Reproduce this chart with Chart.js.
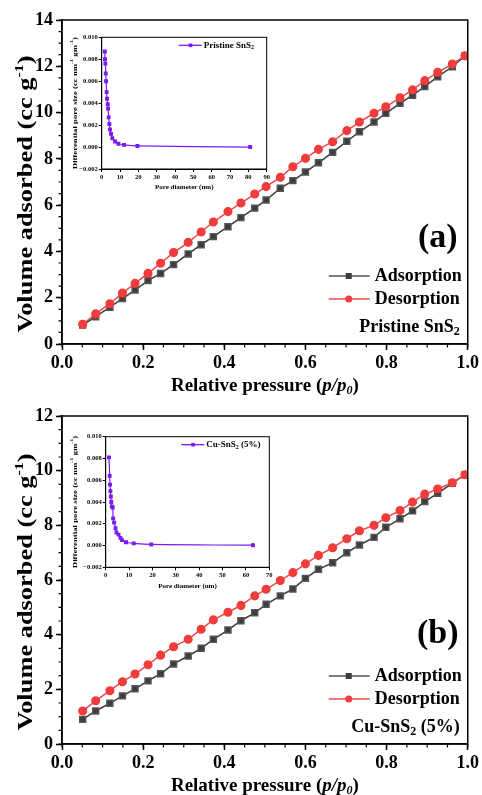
<!DOCTYPE html>
<html>
<head>
<meta charset="utf-8">
<script src="https://cdn.jsdelivr.net/npm/chart.js@4.4.0/dist/chart.umd.min.js"></script>
<style>
  body { margin: 0; background: #fff; }
  #wrap { position: relative; width: 482px; height: 795px; }
  canvas { position: absolute; }
</style>
</head>
<body>
<div id="wrap">
  <canvas id="mainA" style="left:0;top:0;width:482px;height:400px" width="482" height="400"></canvas>
  <canvas id="mainB" style="left:0;top:400px;width:482px;height:395px" width="482" height="395"></canvas>
  <canvas id="insetA" style="left:60px;top:25px;width:215px;height:172px" width="215" height="172"></canvas>
  <canvas id="insetB" style="left:60px;top:425px;width:215px;height:168px" width="215" height="168"></canvas>
</div>
<script>
// isotherm data
const pressure = [0.051, 0.083, 0.118, 0.149, 0.180, 0.212, 0.243, 0.275, 0.311, 0.343,
  0.373, 0.409, 0.441, 0.475, 0.503, 0.538, 0.569, 0.600, 0.632, 0.667,
  0.702, 0.733, 0.769, 0.798, 0.833, 0.864, 0.894, 0.926, 0.962, 0.993];
const adsorptionA = [0.82, 1.18, 1.59, 1.96, 2.33, 2.74, 3.05, 3.43, 3.89, 4.29,
  4.64, 5.07, 5.46, 5.87, 6.22, 6.73, 7.06, 7.43, 7.83, 8.28,
  8.76, 9.17, 9.59, 9.97, 10.40, 10.75, 11.12, 11.55, 11.98, 12.45];
const desorptionA = [0.85, 1.30, 1.74, 2.20, 2.62, 3.05, 3.49, 3.95, 4.39, 4.84,
  5.27, 5.72, 6.09, 6.48, 6.80, 7.20, 7.66, 8.02, 8.41, 8.74,
  9.22, 9.59, 9.97, 10.25, 10.64, 10.98, 11.38, 11.74, 12.10, 12.45];
const adsorptionB = [0.90, 1.21, 1.49, 1.76, 2.02, 2.31, 2.57, 2.93, 3.22, 3.50,
  3.83, 4.17, 4.51, 4.80, 5.11, 5.42, 5.67, 6.06, 6.39, 6.63,
  7.00, 7.28, 7.56, 7.93, 8.24, 8.53, 8.87, 9.17, 9.54, 9.85];
const desorptionB = [1.21, 1.58, 1.95, 2.28, 2.56, 2.90, 3.25, 3.56, 3.83, 4.20,
  4.54, 4.82, 5.07, 5.42, 5.66, 5.98, 6.27, 6.59, 6.90, 7.18,
  7.51, 7.80, 8.00, 8.28, 8.54, 8.85, 9.14, 9.33, 9.56, 9.85];

// pore size distributions (insets)
const poreA = [1.7, 1.8, 2.0, 2.2, 2.4, 2.7, 2.9, 3.3, 3.5, 3.8, 4.2, 4.5, 5.1, 5.8, 7.3, 9.1, 12.2, 19.5, 81];
const dvA = [0.0087, 0.0080, 0.0076, 0.0067, 0.0060, 0.0050, 0.0044, 0.0039, 0.0035, 0.0027,
  0.0021, 0.0016, 0.0012, 0.0008, 0.0005, 0.0003, 0.0002, 0.0001, 0.0];
const poreB = [1.4, 1.7, 1.85, 2.0, 2.2, 2.4, 2.6, 3.0, 3.2, 3.6, 4.2, 4.6, 5.5, 6.3, 7.0, 8.7, 12, 19.5, 63];
const dvB = [0.0081, 0.0064, 0.0056, 0.0050, 0.0045, 0.0040, 0.0036, 0.0035, 0.0025, 0.0021,
  0.0016, 0.0012, 0.0010, 0.0007, 0.0005, 0.0003, 0.0002, 0.0001, 0.00003];

// ticks
const xTicks = [0, 0.2, 0.4, 0.6, 0.8, 1.0];
const yTicksA = [0, 2, 4, 6, 8, 10, 12, 14];
const yTicksB = [0, 2, 4, 6, 8, 10, 12];
const insetXTicksA = [0, 10, 20, 30, 40, 50, 60, 70, 80, 90];
const insetXTicksB = [0, 10, 20, 30, 40, 50, 60, 70];
const insetYTicks = [-0.002, 0, 0.002, 0.004, 0.006, 0.008, 0.010];

const SERIF = '"Liberation Serif", "Times New Roman", serif';
const f = (s, it) => (it ? 'italic ' : '') + 'bold ' + s + 'px ' + SERIF;

function drawRuns(ctx, runs, x, y, align) {
  let w = 0;
  runs.forEach(r => { ctx.font = r.font; w += ctx.measureText(r.t).width; });
  let cx = align === 'center' ? x - w / 2 : align === 'right' ? x - w : x;
  ctx.textAlign = 'left';
  ctx.textBaseline = 'middle';
  runs.forEach(r => {
    ctx.font = r.font;
    ctx.fillText(r.t, cx, y + (r.dy || 0));
    cx += ctx.measureText(r.t).width;
  });
}

function minorTicks(ctx, scale, from, to, step, len, horizontal, pos) {
  ctx.beginPath();
  for (let v = from; v <= to + 1e-9; v += step) {
    const p = scale.getPixelForValue(v);
    if (horizontal) { ctx.moveTo(p, pos); ctx.lineTo(p, pos + len); }
    else { ctx.moveTo(pos, p); ctx.lineTo(pos - len, p); }
  }
  ctx.stroke();
}

function mainChart(id, H, area, ads, des, yMax, yTicks, label, sample) {
  const decor = {
    id: 'decor',
    afterDraw(chart) {
      const ctx = chart.ctx, a = chart.chartArea;
      const sx = chart.scales.x, sy = chart.scales.y;
      ctx.save();
      ctx.strokeStyle = '#000';
      ctx.lineWidth = 1.5;
      ctx.strokeRect(a.left, a.top, a.right - a.left, a.bottom - a.top);
      ctx.lineWidth = 1.2;
      minorTicks(ctx, sx, 0, 1, 0.05, 3.5, true, a.bottom);
      minorTicks(ctx, sy, 0, yMax, 0.5, 3.5, false, a.left);
      ctx.fillStyle = '#000';
      // axis titles
      drawRuns(ctx, [
        { t: 'Relative pressure (', font: f(19) },
        { t: 'p/p', font: f(19, true) },
        { t: '0', font: f(12, true), dy: 5 },
        { t: ')', font: f(19) }
      ], (a.left + a.right) / 2, a.bottom + 42, 'center');
      ctx.save();
      ctx.translate(27, (a.top + a.bottom) / 2 + 12);
      ctx.rotate(-Math.PI / 2);
      ctx.scale(1.32, 1);
      drawRuns(ctx, [
        { t: 'Volume adsorbed (cc g', font: f(20) },
        { t: '-1', font: f(12), dy: -7 },
        { t: ')', font: f(20) }
      ], 0, 0, 'center');
      ctx.restore();
      // legend
      const rows = [
        { y: a.bottom - 68, c: '#555', style: 'rect', t: 'Adsorption' },
        { y: a.bottom - 45, c: '#f04848', style: 'circle', t: 'Desorption' }
      ];
      rows.forEach(r => {
        ctx.strokeStyle = r.c; ctx.lineWidth = 1.5;
        ctx.beginPath(); ctx.moveTo(a.right - 139, r.y); ctx.lineTo(a.right - 98, r.y); ctx.stroke();
        ctx.fillStyle = r.c === '#555' ? '#3c3c3c' : '#f03c3c';
        if (r.style === 'rect') ctx.fillRect(a.right - 122, r.y - 3, 6, 6);
        else { ctx.beginPath(); ctx.arc(a.right - 119, r.y, 3.5, 0, Math.PI * 2); ctx.fill(); }
        ctx.fillStyle = '#000';
        drawRuns(ctx, [{ t: r.t, font: f(18) }], a.right - 93, r.y, 'left');
      });
      drawRuns(ctx, sample, a.right - 8, a.bottom - 17, 'right');
      drawRuns(ctx, [{ t: label, font: f(34) }], a.right - 30, a.top + 218, 'center');
      ctx.restore();
    }
  };
  const tickFont = { family: SERIF, size: 18, weight: 'bold' };
  return new Chart(document.getElementById(id), {
    type: 'line',
    data: {
      datasets: [
        { label: 'Adsorption', data: pressure.map((p, i) => ({ x: p, y: ads[i] })),
          borderColor: '#3c3c3c', backgroundColor: '#3c3c3c', pointBackgroundColor: '#3c3c3c',
          pointBorderColor: '#555', pointStyle: 'rect', pointRadius: 4.2, borderWidth: 1.5, order: 2 },
        { label: 'Desorption', data: pressure.map((p, i) => ({ x: p, y: des[i] })),
          borderColor: '#f04848', backgroundColor: '#f03c3c', pointBackgroundColor: '#f03c3c',
          pointBorderColor: '#f03c3c', pointStyle: 'circle', pointRadius: 3.8, borderWidth: 1.5, order: 1 }
      ]
    },
    options: {
      responsive: false, animation: false, devicePixelRatio: 1,
      layout: { padding: { top: area.t, right: 482 - area.r, left: 0, bottom: 0 }, autoPadding: false },
      plugins: { legend: { display: false }, tooltip: { enabled: false } },
      scales: {
        x: {
          type: 'linear', min: 0, max: 1,
          afterFit: s => { s.height = H - area.b; },
          afterBuildTicks: s => { s.ticks = xTicks.map(v => ({ value: v })); },
          ticks: { font: tickFont, color: '#000', padding: 3, maxRotation: 0, callback: v => v.toFixed(1) },
          grid: { drawOnChartArea: false, tickLength: 6, tickColor: '#000', tickWidth: 1.5 },
          border: { display: true, color: '#000', width: 1.5 }
        },
        y: {
          type: 'linear', min: 0, max: yMax,
          afterFit: s => { s.width = area.l; },
          afterBuildTicks: s => { s.ticks = yTicks.map(v => ({ value: v })); },
          ticks: { font: tickFont, color: '#000', padding: 3 },
          grid: { drawOnChartArea: false, tickLength: 6, tickColor: '#000', tickWidth: 1.5 },
          border: { display: true, color: '#000', width: 1.5 }
        }
      }
    },
    plugins: [decor]
  });
}

function insetChart(id, W, H, area, xs, ys, xMax, xTicksArr, legendRuns, titleY) {
  const decor = {
    id: 'insetDecor',
    afterDraw(chart) {
      const ctx = chart.ctx, a = chart.chartArea;
      ctx.save();
      ctx.strokeStyle = '#000'; ctx.lineWidth = 1;
      ctx.strokeRect(a.left, a.top, a.right - a.left, a.bottom - a.top);
      ctx.fillStyle = '#000';
      drawRuns(ctx, [{ t: 'Pore diameter (nm)', font: f(7) }], (a.left + a.right) / 2, titleY, 'center');
      ctx.save();
      ctx.translate(15, (a.top + a.bottom) / 2);
      ctx.rotate(-Math.PI / 2);
      ctx.scale(1.35, 1);
      drawRuns(ctx, [
        { t: 'Differential pore size (cc nm', font: f(6.5) },
        { t: '-1', font: f(4.5), dy: -3 },
        { t: ' gm', font: f(6.5) },
        { t: '-1', font: f(4.5), dy: -3 },
        { t: ')', font: f(6.5) }
      ], 0, 0, 'center');
      ctx.restore();
      // legend
      const ly = a.top + 8;
      ctx.strokeStyle = '#7a1cf0'; ctx.lineWidth = 1.3;
      ctx.beginPath(); ctx.moveTo(a.right - 88, ly); ctx.lineTo(a.right - 65, ly); ctx.stroke();
      ctx.fillStyle = '#7a1cf0';
      ctx.fillRect(a.right - 78, ly - 1.8, 3.6, 3.6);
      ctx.fillStyle = '#000';
      drawRuns(ctx, legendRuns, a.right - 63, ly, 'left');
      ctx.restore();
    }
  };
  const tickFont = { family: SERIF, size: 6.5, weight: 'bold' };
  return new Chart(document.getElementById(id), {
    type: 'line',
    data: {
      datasets: [{
        data: xs.map((x, i) => ({ x: x, y: ys[i] })),
        borderColor: '#7a1cf0', backgroundColor: '#7a1cf0', pointStyle: 'rect',
        pointRadius: 1.9, borderWidth: 1.2, tension: 0.4
      }]
    },
    options: {
      responsive: false, animation: false, devicePixelRatio: 1,
      layout: { padding: { top: area.t, right: W - area.r, left: 0, bottom: 0 }, autoPadding: false },
      plugins: { legend: { display: false }, tooltip: { enabled: false } },
      scales: {
        x: {
          type: 'linear', min: 0, max: xMax,
          afterFit: s => { s.height = H - area.b; },
          afterBuildTicks: s => { s.ticks = xTicksArr.map(v => ({ value: v })); },
          ticks: { font: tickFont, color: '#000', padding: 1, maxRotation: 0 },
          grid: { drawOnChartArea: false, tickLength: 3, tickColor: '#000', tickWidth: 1 },
          border: { display: true, color: '#000', width: 1 }
        },
        y: {
          type: 'linear', min: -0.002, max: 0.010,
          afterFit: s => { s.width = area.l; },
          afterBuildTicks: s => { s.ticks = insetYTicks.map(v => ({ value: v })); },
          ticks: { font: tickFont, color: '#000', padding: 1,
            callback: v => (v < 0 ? '\u2212' : '') + Math.abs(v).toFixed(3) },
          grid: { drawOnChartArea: false, tickLength: 3, tickColor: '#000', tickWidth: 1 },
          border: { display: true, color: '#000', width: 1 }
        }
      }
    },
    plugins: [decor]
  });
}

mainChart('mainA', 400, { l: 62, t: 20, r: 470, b: 344 }, adsorptionA, desorptionA, 14, yTicksA, '(a)',
  [{ t: 'Pristine SnS', font: f(18) }, { t: '2', font: f(12), dy: 5 }]);
mainChart('mainB', 395, { l: 62, t: 16, r: 470, b: 344 }, adsorptionB, desorptionB, 12, yTicksB, '(b)',
  [{ t: 'Cu-SnS', font: f(18) }, { t: '2', font: f(12), dy: 5 }, { t: ' (5%)', font: f(18) }]);
insetChart('insetA', 215, 172, { l: 41.7, t: 12.3, r: 206.7, b: 144 }, poreA, dvA, 90, insetXTicksA,
  [{ t: 'Pristine SnS', font: f(9) }, { t: '2', font: f(6), dy: 2.5 }], 161.7);
insetChart('insetB', 215, 168, { l: 45.7, t: 11.7, r: 209.3, b: 142.3 }, poreB, dvB, 70, insetXTicksB,
  [{ t: 'Cu-SnS', font: f(9) }, { t: '2', font: f(6), dy: 2.5 }, { t: ' (5%)', font: f(9) }], 160.7);
</script>
</body>
</html>
